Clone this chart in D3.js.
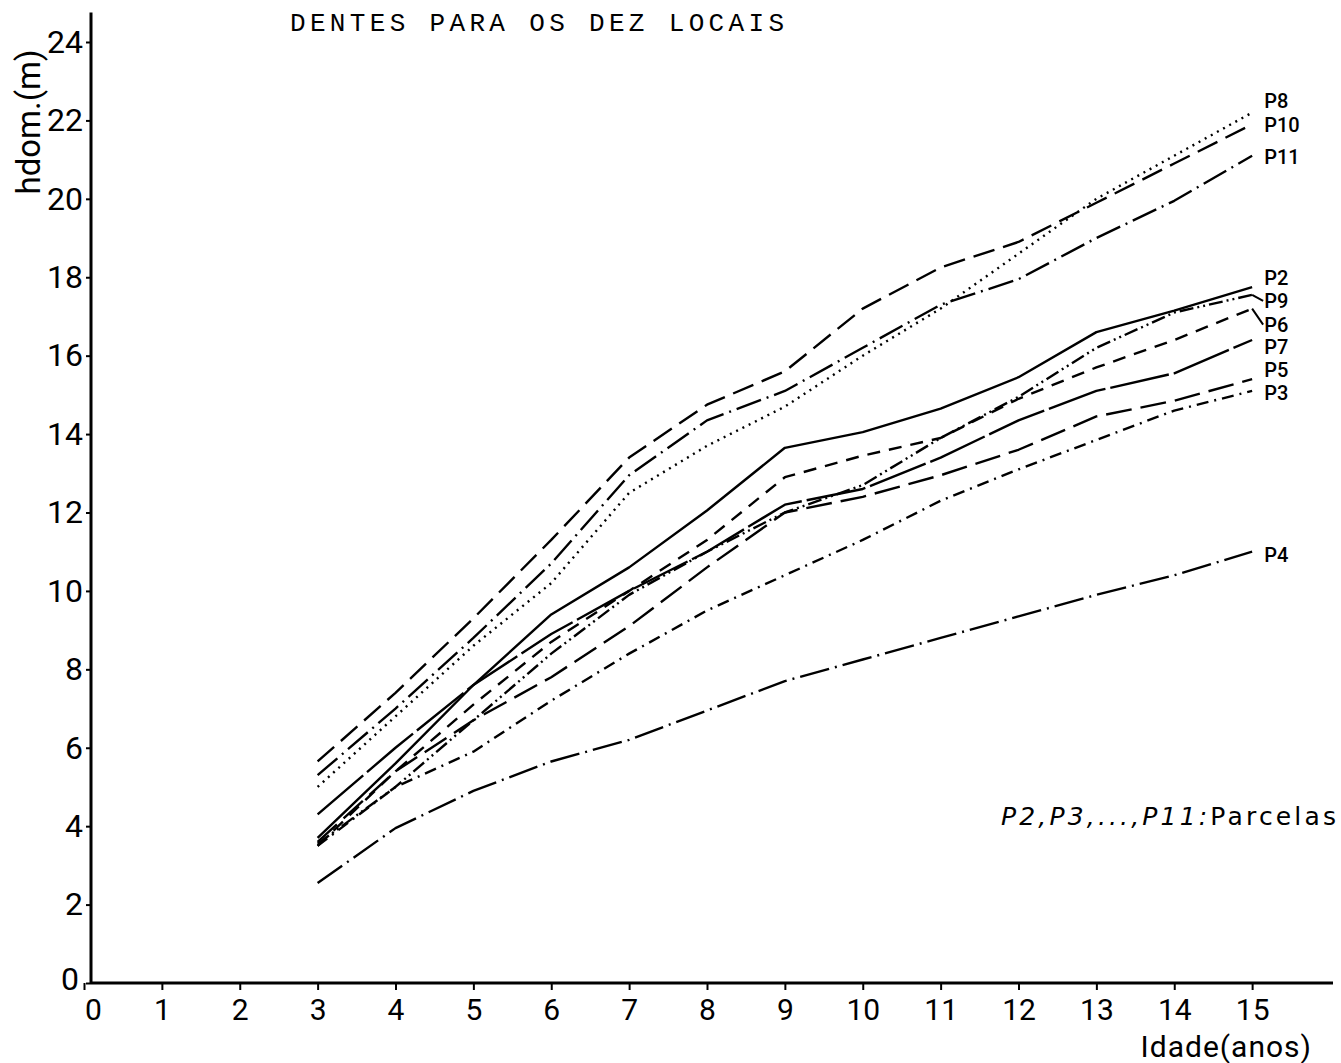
<!DOCTYPE html>
<html>
<head>
<meta charset="utf-8">
<script src="https://cdn.jsdelivr.net/npm/d3@7/dist/d3.min.js"></script>
<style>
  body { margin: 0; background: #fff; }
  svg { display: block; }
</style>
</head>
<body>
<svg id="chart" width="1341" height="1063"></svg>
<script>
// ages (anos)
const ages = [3, 4, 5, 6, 7, 8, 9, 10, 11, 12, 13, 14, 15];

// hdom (m) per parcela
const p2  = [3.7, 5.6, 7.6, 9.4, 10.6, 12.05, 13.65, 14.05, 14.65, 15.45, 16.6, 17.15, 17.75];
const p3  = [3.5, 5.0, 5.9, 7.2, 8.4, 9.5, 10.4, 11.3, 12.3, 13.1, 13.85, 14.6, 15.1];
const p4  = [2.55, 3.95, 4.9, 5.65, 6.2, 6.95, 7.7, 8.25, 8.8, 9.35, 9.9, 10.4, 11.0];
const p5  = [3.6, 5.4, 6.7, 7.8, 9.1, 10.6, 12.0, 12.4, 12.95, 13.6, 14.45, 14.85, 15.4];
const p6  = [3.5, 5.4, 7.1, 8.7, 10.0, 11.3, 12.9, 13.45, 13.9, 14.9, 15.7, 16.4, 17.2];
const p7  = [4.3, 6.0, 7.6, 8.9, 10.0, 11.0, 12.2, 12.6, 13.4, 14.35, 15.1, 15.55, 16.4];
const p8  = [5.0, 6.8, 8.6, 10.2, 12.5, 13.7, 14.7, 16.0, 17.2, 18.6, 20.0, 21.1, 22.2];
const p9  = [3.55, 5.0, 6.7, 8.4, 9.9, 11.0, 12.0, 12.7, 13.9, 14.95, 16.2, 17.1, 17.55];
const p10 = [5.65, 7.4, 9.3, 11.3, 13.4, 14.75, 15.6, 17.2, 18.25, 18.9, 19.9, 20.9, 21.9];
const p11 = [5.3, 7.0, 8.8, 10.7, 12.95, 14.35, 15.1, 16.2, 17.3, 17.95, 19.0, 19.95, 21.1];

const names = ['P2', 'P3', 'P4', 'P5', 'P6', 'P7', 'P8', 'P9', 'P10', 'P11'];
const values = [p2, p3, p4, p5, p6, p7, p8, p9, p10, p11];

const xTicks = d3.range(0, 16);
const yTicks = d3.range(0, 25, 2);

// line styles, one per parcela
const dash = {
  P2: null,
  P3: '12,6,2,6',
  P4: '30,6,2,6',
  P5: '26,9',
  P6: '13,9',
  P7: '60,5',
  P8: '2,5',
  P9: '14,4,2,4,2,4',
  P10: '22,9',
  P11: '26,6,2,6'
};
// label nudges (px) so the stacked end labels don't collide
const labelShift = {P8: -12, P10: 1, P11: 1, P2: -9, P9: 6, P6: 16, P7: 7, P5: -9, P3: 2, P4: 3};

const svg = d3.select('#chart');
const font = 'Roboto, "DejaVu Sans", sans-serif';

const x = d3.scaleLinear().domain([0, 16]).range([84, 1330]);
const y = d3.scaleLinear().domain([0, 24]).range([983, 42]);
const axisX = 91;

// axes
svg.append('line')
  .attr('x1', axisX).attr('x2', axisX)
  .attr('y1', y(24.75)).attr('y2', y(0))
  .attr('stroke', '#000').attr('stroke-width', 3);
svg.append('line')
  .attr('x1', axisX).attr('x2', 1333)
  .attr('y1', y(0)).attr('y2', y(0))
  .attr('stroke', '#000').attr('stroke-width', 3);

const gx = svg.append('g')
  .attr('transform', `translate(0,${y(0)})`)
  .call(d3.axisBottom(x).tickValues(xTicks).tickSize(7).tickPadding(9).tickFormat(d3.format('d')));
gx.select('.domain').remove();
gx.selectAll('line').attr('stroke-width', 2);
gx.selectAll('text').attr('font-family', font).attr('font-size', 30).attr('fill', '#000');
// the origin label sits under the y axis in the original
gx.selectAll('.tick').filter(d => d === 0).select('text').attr('dx', 9);

const gy = svg.append('g')
  .attr('transform', `translate(${axisX},0)`)
  .call(d3.axisLeft(y).tickValues(yTicks).tickSize(5).tickPadding(3).tickFormat(d3.format('d')));
gy.select('.domain').remove();
gy.selectAll('line').attr('stroke-width', 2);
gy.selectAll('text').attr('font-family', font).attr('font-size', 32).attr('fill', '#000');
gy.selectAll('.tick').filter(d => d === 0).select('text').attr('dx', -4).attr('dy', '0.2em');

// axis titles
svg.append('text')
  .attr('x', 1312).attr('y', 1057)
  .attr('text-anchor', 'end')
  .attr('font-family', font).attr('font-size', 30)
  .attr('letter-spacing', 1)
  .text('Idade(anos)');
svg.append('text')
  .attr('transform', 'translate(40,122) rotate(-90)')
  .attr('text-anchor', 'middle')
  .attr('font-family', font).attr('font-size', 33)
  .text('hdom.(m)');

svg.append('text')
  .attr('x', 290).attr('y', 31)
  .attr('textLength', 494).attr('lengthAdjust', 'spacing')
  .attr('font-family', '"Liberation Mono", "Courier New", monospace')
  .attr('font-size', 26)
  .text('DENTES PARA OS DEZ LOCAIS');

// series
const line = d3.line()
  .x((d, i) => x(ages[i]))
  .y(d => y(d));

svg.selectAll('path.serie')
  .data(values)
  .enter()
  .append('path')
  .attr('class', 'serie')
  .attr('d', d => line(d))
  .attr('fill', 'none')
  .attr('stroke', '#000')
  .attr('stroke-width', 2.4)
  .attr('stroke-linejoin', 'round')
  .attr('stroke-dasharray', (d, i) => dash[names[i]]);

// end labels
const last = ages.length - 1;
svg.selectAll('text.lab')
  .data(names)
  .enter()
  .append('text')
  .attr('class', 'lab')
  .attr('x', x(ages[last]) + 12)
  .attr('y', (d, i) => y(values[i][last]) + 7 + labelShift[d])
  .attr('font-family', font).attr('font-size', 20).attr('font-weight', 500)
  .text(d => d);

// small leader ticks for the crowded P9 / P6 labels
['P9', 'P6'].forEach(n => {
  const v = values[names.indexOf(n)][last];
  svg.append('line')
    .attr('x1', x(ages[last])).attr('y1', y(v))
    .attr('x2', x(ages[last]) + 11).attr('y2', y(v) + labelShift[n])
    .attr('stroke', '#000').attr('stroke-width', 2);
});

// legend note
svg.append('text')
  .attr('x', 1001).attr('y', 825)
  .attr('textLength', 335).attr('lengthAdjust', 'spacing')
  .attr('font-family', '"DejaVu Sans", sans-serif').attr('font-size', 25)
  .call(t => {
    t.append('tspan').attr('font-style', 'italic').text('P2,P3,...,P11:');
    t.append('tspan').text('Parcelas');
  });
</script>
</body>
</html>
